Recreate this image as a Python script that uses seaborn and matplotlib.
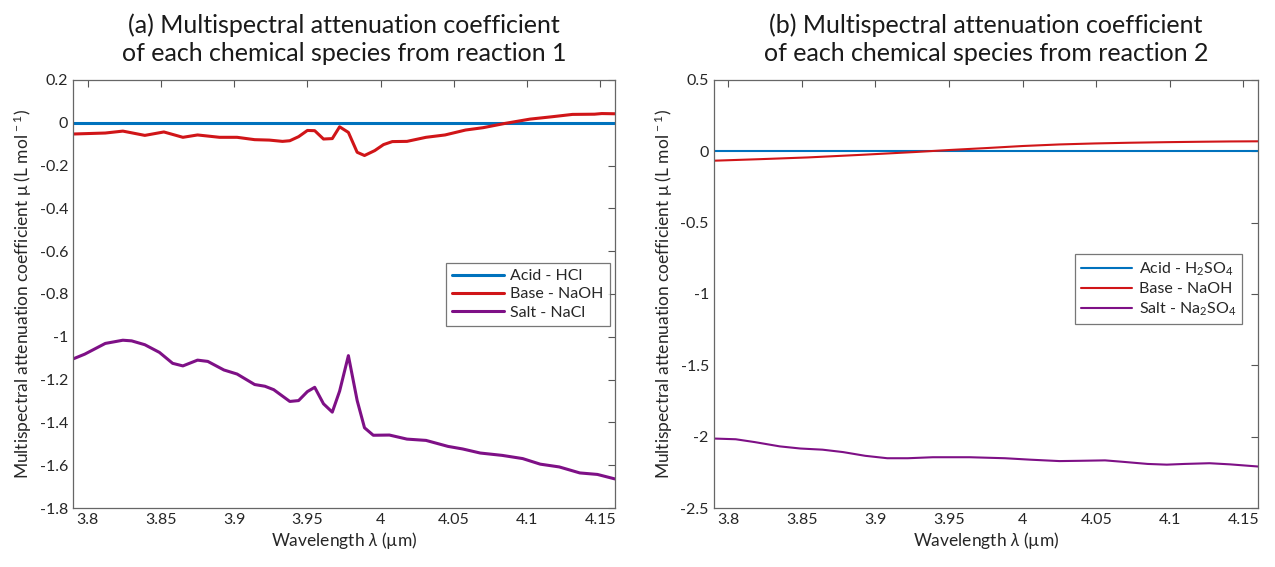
#!/usr/bin/env python3

import seaborn as sns
import pandas as pd
import numpy as np
import matplotlib.pyplot as plt

# reaction 1
acid1_wl = [3.79, 4.16]
acid1_mu = [0.0, 0.0]

base1_wl = [3.788, 3.812, 3.824, 3.839, 3.852, 3.865, 3.875, 3.890, 3.902, 3.914, 3.924, 3.933,
            3.938, 3.944, 3.950, 3.955, 3.961, 3.967, 3.972, 3.978, 3.984, 3.989, 3.996, 4.002,
            4.008, 4.018, 4.031, 4.044, 4.058, 4.070, 4.085, 4.102, 4.117, 4.131, 4.146, 4.151, 4.160]
base1_mu = [-0.053, -0.048, -0.039, -0.059, -0.043, -0.068, -0.057, -0.068, -0.068, -0.079, -0.081, -0.087,
            -0.084, -0.065, -0.036, -0.037, -0.076, -0.074, -0.019, -0.045, -0.138, -0.153, -0.130, -0.102,
            -0.088, -0.087, -0.068, -0.057, -0.034, -0.023, -0.003, 0.017, 0.028, 0.039, 0.040, 0.043, 0.042]

salt1_wl = [3.788, 3.798, 3.812, 3.824, 3.830, 3.839, 3.849, 3.858, 3.865, 3.875, 3.882, 3.893,
            3.902, 3.914, 3.921, 3.927, 3.938, 3.944, 3.950, 3.955, 3.961, 3.967, 3.972, 3.978,
            3.984, 3.989, 3.995, 4.006, 4.018, 4.031, 4.046, 4.056, 4.068, 4.083, 4.097, 4.109,
            4.122, 4.136, 4.148, 4.160]
salt1_mu = [-1.109, -1.081, -1.031, -1.016, -1.019, -1.037, -1.073, -1.124, -1.136, -1.109, -1.115, -1.155,
            -1.174, -1.223, -1.231, -1.247, -1.302, -1.298, -1.256, -1.236, -1.313, -1.352, -1.254, -1.088,
            -1.298, -1.425, -1.460, -1.459, -1.478, -1.484, -1.512, -1.524, -1.543, -1.554, -1.569, -1.595,
            -1.608, -1.636, -1.643, -1.664]

# reaction 2
acid2_wl = [3.79, 4.16]
acid2_mu = [0.0, 0.0]

base2_wl = [3.790, 3.822, 3.854, 3.890, 3.927, 3.952, 3.976, 4.000, 4.025, 4.049, 4.073, 4.098, 4.122, 4.141, 4.160]
base2_mu = [-0.066, -0.055, -0.043, -0.025, -0.005, 0.010, 0.023, 0.037, 0.048, 0.055, 0.060, 0.064, 0.067, 0.069, 0.070]

salt2_wl = [3.790, 3.805, 3.818, 3.835, 3.849, 3.864, 3.878, 3.893, 3.908, 3.922, 3.939, 3.964,
            3.988, 4.005, 4.025, 4.039, 4.056, 4.068, 4.085, 4.098, 4.110, 4.127, 4.141, 4.160]
salt2_mu = [-2.013, -2.018, -2.038, -2.068, -2.083, -2.091, -2.108, -2.134, -2.151, -2.151, -2.144, -2.144,
            -2.151, -2.161, -2.171, -2.169, -2.166, -2.176, -2.191, -2.196, -2.191, -2.186, -2.194, -2.209]

labels1 = ['Acid - HCl', 'Base - NaOH', 'Salt - NaCl']
labels2 = ['Acid - H$_2$SO$_4$', 'Base - NaOH', 'Salt - Na$_2$SO$_4$']
colors = ['#0072BD', '#D01518', '#7E1086']

sns.set_style('white')
plt.rcParams['font.family'] = ['Lato', 'DejaVu Sans']
plt.rcParams['mathtext.fontset'] = 'custom'
plt.rcParams['mathtext.rm'] = 'Lato'
plt.rcParams['mathtext.it'] = 'Lato:italic'
plt.rcParams['mathtext.default'] = 'regular'
plt.rcParams['axes.unicode_minus'] = False


def make_df(series, labels):
    parts = []
    for (wl, mu), lab in zip(series, labels):
        parts.append(pd.DataFrame({'wl': wl, 'mu': mu, 'species': lab}))
    return pd.concat(parts, ignore_index=True)


def draw(ax, df, labels, lw, ylim, yticks, title, leg_anchor):
    sns.lineplot(data=df, x='wl', y='mu', hue='species', hue_order=labels,
                 palette=colors, sort=False, estimator=None, linewidth=lw, ax=ax)
    ax.set_xlim(3.79, 4.16)
    ax.set_ylim(*ylim)
    ax.set_xticks([3.8, 3.85, 3.9, 3.95, 4.0, 4.05, 4.1, 4.15])
    ax.set_xticklabels(['3.8', '3.85', '3.9', '3.95', '4', '4.05', '4.1', '4.15'])
    ax.set_yticks(yticks)
    ax.set_yticklabels(['%g' % t for t in yticks])
    ax.tick_params(direction='in', top=True, right=True, length=5, width=0.8,
                   color='#555555', labelcolor='#262626', labelsize=11.5)
    for s in ax.spines.values():
        s.set_color('#666666')
        s.set_linewidth(0.9)
    ax.set_xlabel('Wavelength $\\mathit{\\lambda}$ (µm)', fontsize=12.5, color='#262626', labelpad=2)
    ax.set_ylabel('Multispectral attenuation coefficient μ (L mol$^{\\,-1}$)', fontsize=12.5,
                  color='#262626', labelpad=4)
    ax.set_title(title, fontsize=18, color='#1a1a1a', pad=14, linespacing=1.25)
    handles, _ = ax.get_legend_handles_labels()
    leg = ax.legend(handles, labels, loc='upper right', bbox_to_anchor=leg_anchor,
                    fontsize=11.5, frameon=True, fancybox=False, handlelength=3.2,
                    borderpad=0.4, labelspacing=0.25, handletextpad=0.4)
    leg.get_frame().set_edgecolor('#555555')
    leg.get_frame().set_linewidth(0.9)
    for line in leg.get_lines():
        line.set_linewidth(lw)


fig = plt.figure(figsize=(12.75, 5.67), dpi=100)
ax1 = fig.add_axes([0.0573, 0.104, 0.4250, 0.755])
ax2 = fig.add_axes([0.5597, 0.104, 0.4270, 0.755])

df1 = make_df([(acid1_wl, acid1_mu), (base1_wl, base1_mu), (salt1_wl, salt1_mu)], labels1)
df2 = make_df([(acid2_wl, acid2_mu), (base2_wl, base2_mu), (salt2_wl, salt2_mu)], labels2)

draw(ax1, df1, labels1, 2.2, (-1.8, 0.2), [-1.8, -1.6, -1.4, -1.2, -1, -0.8, -0.6, -0.4, -0.2, 0, 0.2],
     '(a) Multispectral attenuation coefficient\nof each chemical species from reaction 1', (1.005, 0.592))
draw(ax2, df2, labels2, 1.5, (-2.5, 0.5), [-2.5, -2, -1.5, -1, -0.5, 0, 0.5],
     '(b) Multispectral attenuation coefficient\nof each chemical species from reaction 2', (0.986, 0.611))

fig.savefig('out.png', dpi=100)
